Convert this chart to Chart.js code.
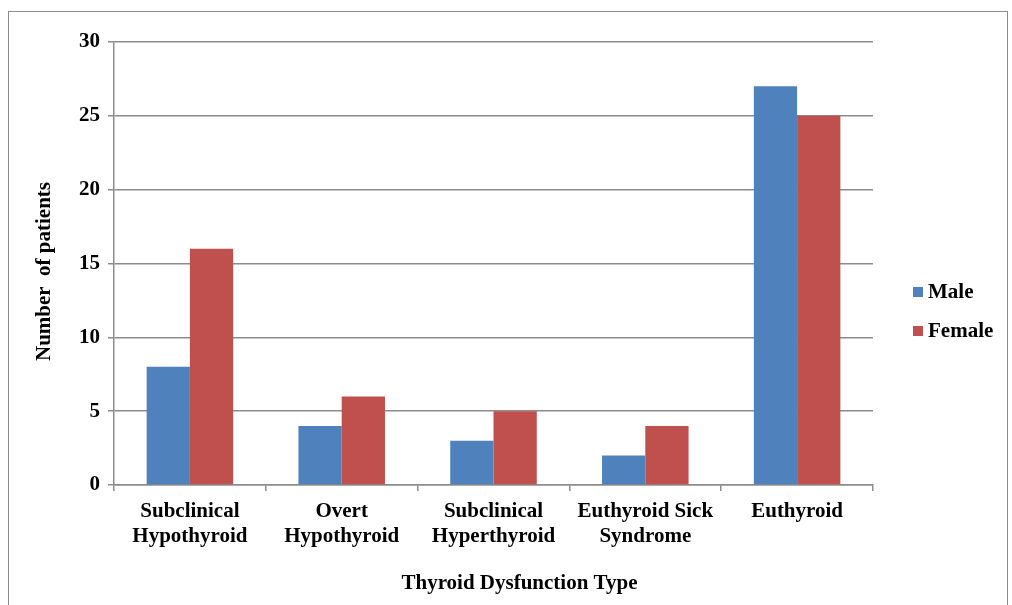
<!DOCTYPE html>
<html>
<head>
<meta charset="utf-8">
<script src="https://cdn.jsdelivr.net/npm/chart.js@4"></script>
<style>
  body { margin: 0; background: #fff; overflow: hidden; }
  #frame { position: absolute; left: 8px; top: 11px; width: 998px; height: 620px; border: 1px solid #8c8c8c; }
  #wrap { position: absolute; left: 0; top: 0; width: 998px; height: 593px; }
</style>
</head>
<body>
<div id="frame"><div id="wrap"><canvas id="chart"></canvas></div></div>
<script>
const categories = [
  ['Subclinical', 'Hypothyroid'],
  ['Overt', 'Hypothyroid'],
  ['Subclinical', 'Hyperthyroid'],
  ['Euthyroid Sick', 'Syndrome'],
  'Euthyroid'
];
const male = [8, 4, 3, 2, 27];
const female = [16, 6, 5, 4, 25];
const yTicks = [0, 5, 10, 15, 20, 25, 30];
const xTitle = 'Thyroid Dysfunction Type';
const yTitle = 'Number  of patients';

const font = { family: '"Liberation Serif", "Times New Roman", serif', size: 21, weight: 'bold', lineHeight: 1.2 };
const fontCss = 'bold 21px "Liberation Serif", "Times New Roman", serif';
const gridColor = '#8c8c8c';

// legend and axis titles drawn by hand, the original places them off-centre
const extras = {
  id: 'extras',
  afterDraw(chart) {
    const ctx = chart.ctx;
    const area = chart.chartArea;
    const mid = (area.top + area.bottom) / 2;
    ctx.save();
    ctx.font = fontCss;
    ctx.textBaseline = 'middle';

    const x = area.right + 40;
    const rowGap = 39;
    const sets = chart.data.datasets;
    const y0 = mid + 48 - (sets.length - 1) * rowGap / 2;
    sets.forEach((ds, i) => {
      const y = y0 + i * rowGap;
      ctx.fillStyle = ds.backgroundColor;
      ctx.fillRect(x, y - 5, 10, 10);
      ctx.fillStyle = '#000';
      ctx.textAlign = 'left';
      ctx.fillText(ds.label, x + 15, y + 1);
    });

    ctx.fillStyle = '#000';
    ctx.textAlign = 'center';
    ctx.fillText(xTitle, (area.left + area.right) / 2 + 26, chart.height - 21);

    ctx.translate(36, mid + 8);
    ctx.rotate(-Math.PI / 2);
    ctx.fillText(yTitle, 0, 0);
    ctx.restore();
  }
};

new Chart(document.getElementById('chart'), {
  type: 'bar',
  data: {
    labels: categories,
    datasets: [
      { label: 'Male', data: male, backgroundColor: '#4f81bd', categoryPercentage: 0.57, barPercentage: 1 },
      { label: 'Female', data: female, backgroundColor: '#c0504d', categoryPercentage: 0.57, barPercentage: 1 }
    ]
  },
  plugins: [extras],
  options: {
    responsive: true,
    maintainAspectRatio: false,
    animation: false,
    layout: { padding: { left: 25, top: 30, right: 134, bottom: 0 } },
    plugins: {
      tooltip: { enabled: false },
      legend: { display: false }
    },
    scales: {
      x: {
        offset: true,
        grid: { offset: true, drawOnChartArea: false, drawTicks: true, tickLength: 6, color: gridColor, lineWidth: 1.5 },
        border: { color: gridColor, width: 1.5 },
        ticks: { color: '#000', font: font, padding: 8, maxRotation: 0, autoSkip: false },
        afterFit: s => { s.height = 120; }
      },
      y: {
        min: 0,
        max: 30,
        afterBuildTicks: s => { s.ticks = yTicks.map(v => ({ value: v })); },
        grid: { color: gridColor, lineWidth: 1.5, tickLength: 6 },
        border: { color: gridColor, width: 1.5 },
        ticks: { color: '#000', font: font, padding: 8 },
        afterFit: s => { s.width = 80; }
      }
    }
  }
});
</script>
</body>
</html>
